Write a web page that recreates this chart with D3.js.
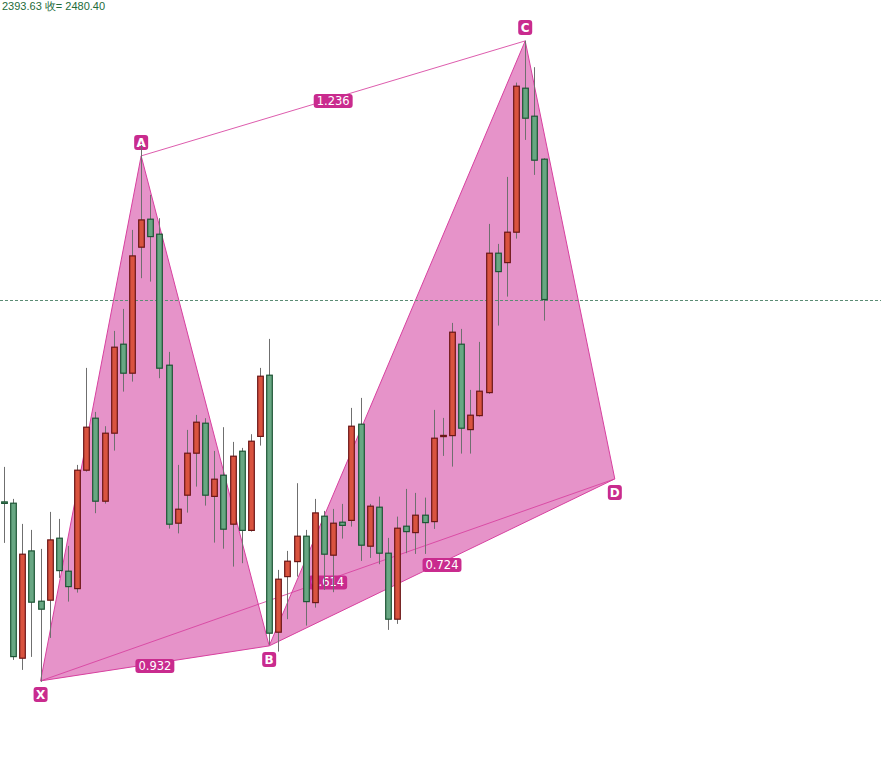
<!DOCTYPE html>
<html>
<head>
<meta charset="utf-8">
<script src="https://cdn.jsdelivr.net/npm/d3@7/dist/d3.min.js"></script>
<style>
html,body{margin:0;padding:0;background:#fff;overflow:hidden;}
svg{display:block;}
</style>
</head>
<body>
<svg id="chart" width="881" height="770"></svg>
<script>
// ---- data ----
const opens  = [2278.0,2276.7,2121.7,2229.0,2178.7,2179.7,2241.7,2208.7,2191.3,2309.7,
                2361.7,2278.7,2346.7,2435.7,2406.7,2532.7,2560.7,2545.7,2414.7,2256.7,
                2284.7,2326.7,2356.7,2283.5,2304.7,2255.7,2328.7,2249.5,2343.5,2404.7,
                2147.7,2203.3,2218.3,2243.7,2177.3,2263.7,2224.7,2257.7,2259.5,2355.7,
                2233.7,2272.7,2226.7,2160.7,2253.7,2247.3,2264.7,2258.3,2343.3,2344.3,
                2435.7,2350.3,2364.3,2387.3,2526.7,2517.3,2547.7,2691.7,2663.7,2620.7];
const highs  = [2313,2281,2256,2250,2231,2268,2261,2234,2315,2412,
                2368,2353.7,2449,2471,2550,2635,2585,2561.7,2428,2315,
                2350,2365,2361.7,2329,2352.7,2338,2332,2345.7,2412,2441,
                2210,2229,2296.7,2250,2281,2269,2271,2276,2372,2382,
                2276,2283.3,2242,2263.3,2291,2287,2282.3,2370,2362,2457,
                2451,2390,2438,2556,2536,2603,2697.3,2739.3,2712.7,2621.7];
const lows   = [2237,2120,2110,2123,2098,2142,2202,2178.3,2187.3,2308.3,
                2266.7,2276.3,2329.3,2388.3,2398.3,2501.7,2498.3,2401.7,2251.3,2246.5,
                2267.3,2293.3,2274.3,2237.3,2231.2,2213.3,2216.7,2248.3,2334.3,2135,
                2128.3,2160.7,2203.3,2154.3,2172.3,2190,2187.7,2241.3,2253.3,2219,
                2222,2215.7,2150,2156,2226.7,2226,2226,2251,2324,2313.3,
                2326.3,2326.3,2363.3,2386,2454.3,2483.3,2541.3,2640,2605,2459.3];
const closes = [2276.5,2123.3,2225.7,2177.7,2170.7,2240.0,2209.3,2193.3,2309.7,2352.7,
                2278.7,2346.7,2432.7,2406.7,2524.0,2560.0,2543.3,2411.7,2255.7,2270.7,
                2326.7,2357.7,2284.7,2300.7,2250.7,2323.7,2249.5,2338.7,2403.7,2146.7,
                2200.7,2218.7,2243.7,2178.3,2267.0,2225.7,2256.7,2254.5,2353.7,2234.7,
                2273.7,2226.7,2160.7,2251.7,2248.3,2264.7,2257.3,2341.7,2344.5,2447.7,
                2351.7,2364.7,2388.7,2526.7,2508.3,2547.7,2693.7,2661.7,2619.7,2480.4];

const lastPrice = 2480.40;
const headerText = "2393.63 收= 2480.40";

// harmonic pattern points (bar index, price)
const pointNames  = ["X","A","B","C","D"];
const pointIndex  = [4, 15, 29, 57, 66.8];
const pointPrice  = [2099, 2624, 2134, 2739, 2301];
const pointAbove  = [false, true, false, true, false];

// ratio legs: [from, to, label]
const legFrom   = ["X","A","B","X"];
const legTo     = ["B","C","D","D"];
const legLabels = ["0.932","1.236","0.724","0.614"];

// ---- layout ----
const W = 881, H = 770;
const svg = d3.select("#chart");
const x = d3.scaleLinear().domain([0, 59]).range([4, 543.5]);
const y = d3.scaleLinear().domain([2779.9 - H, 2779.9]).range([H, 0]);

const pts = {};
pointNames.forEach((n,i)=>{ pts[n] = {x:x(pointIndex[i]), y:y(pointPrice[i]), above:pointAbove[i]}; });

const fillCol = "#e693c9", lineCol = "#d7409f", labelCol = "#c92b8e";

// triangles
const tris = [["X","A","B"],["B","C","D"]];
svg.append("g").selectAll("path").data(tris).join("path")
  .attr("d", t => "M" + t.map(n => pts[n].x + "," + pts[n].y).join("L") + "Z")
  .attr("fill", fillCol).attr("stroke", lineCol).attr("stroke-width", 1).attr("stroke-linejoin","round");

// extra legs
const gl = svg.append("g");
gl.selectAll("line").data([["A","C"],["X","D"]]).join("line")
  .attr("x1", d=>pts[d[0]].x).attr("y1", d=>pts[d[0]].y)
  .attr("x2", d=>pts[d[1]].x).attr("y2", d=>pts[d[1]].y)
  .attr("stroke", lineCol).attr("stroke-width", 1).attr("stroke-opacity", 0.85);

// ratio labels
const font = "'DejaVu Sans', Verdana, sans-serif";
const gr = svg.append("g");
legLabels.forEach((lab,i)=>{
  const a = pts[legFrom[i]], b = pts[legTo[i]];
  const cx = (a.x+b.x)/2, cy = (a.y+b.y)/2 + 2.5;
  const g = gr.append("g");
  const r = g.append("rect").attr("fill", labelCol).attr("rx", 3);
  const t = g.append("text").attr("x", cx).attr("y", cy + 4)
    .attr("text-anchor","middle").attr("fill","#fff")
    .attr("font-family", font).attr("font-size", 11.5).text(lab);
  const w = t.node().getComputedTextLength() + 6;
  r.attr("x", cx - w/2).attr("y", cy - 7).attr("width", w).attr("height", 14);
});

// point labels
const gp = svg.append("g");
pointNames.forEach(n=>{
  const p = pts[n];
  const cy = p.above ? p.y - 13.5 : p.y + 13.5;
  gp.append("rect").attr("x", p.x - 7).attr("y", cy - 7.5).attr("width", 14).attr("height", 15)
    .attr("rx", 3).attr("fill", labelCol);
  gp.append("text").attr("x", p.x).attr("y", cy + 4.5).attr("text-anchor","middle")
    .attr("fill","#fff").attr("font-family", font).attr("font-size", 12).attr("font-weight","bold").text(n);
});

// last price dashed line
svg.append("line").attr("x1",0).attr("x2",W).attr("y1", Math.round(y(lastPrice))+0.5).attr("y2", Math.round(y(lastPrice))+0.5)
  .attr("stroke","#5b8c74").attr("stroke-width",1).attr("stroke-dasharray","3,2");

// candles
const idx = d3.range(opens.length);
const gc = svg.append("g");
gc.selectAll("line").data(idx).join("line")
  .attr("x1", i=>Math.round(x(i))+0.5).attr("x2", i=>Math.round(x(i))+0.5)
  .attr("y1", i=>y(highs[i])).attr("y2", i=>y(lows[i]))
  .attr("stroke","#6f6f6f").attr("stroke-width",1);
const bw = 5.6;
gc.selectAll("rect").data(idx).join("rect")
  .attr("x", i=>Math.round(x(i))+0.5 - bw/2)
  .attr("y", i=>y(Math.max(opens[i],closes[i])))
  .attr("width", bw)
  .attr("height", i=>Math.max(1, Math.abs(y(opens[i]) - y(closes[i]))))
  .attr("fill", i=> closes[i] >= opens[i] ? "#d9533f" : "#68a783")
  .attr("stroke", i=> closes[i] >= opens[i] ? "#6b1616" : "#1d5535")
  .attr("stroke-width", 1.2);

// header text
svg.append("text").attr("x",2).attr("y",10).attr("fill","#236b3b")
  .attr("font-family","'Liberation Sans', Arial, sans-serif").attr("font-size",11).text(headerText);
</script>
</body>
</html>
